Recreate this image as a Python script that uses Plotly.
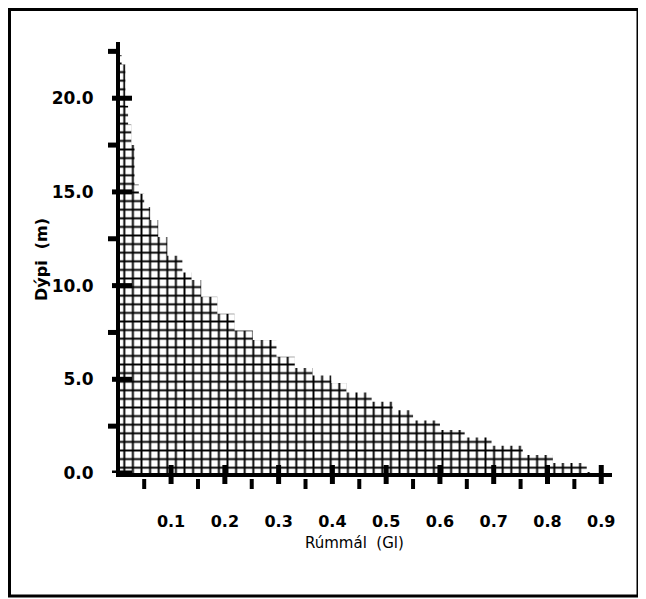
import plotly.graph_objects as go

# Volume (Gl) and depth (m)
volume = [0.000, 0.008, 0.015, 0.020, 0.026, 0.032, 0.040, 0.050, 0.061, 0.076,
          0.093, 0.121, 0.138, 0.156, 0.186, 0.218, 0.252, 0.296, 0.330, 0.363,
          0.398, 0.426, 0.473, 0.512, 0.550, 0.600, 0.646, 0.696, 0.754, 0.810,
          0.873, 0.880]
depth = [22.3, 21.8, 19.6, 18.6, 17.5, 15.4, 14.9, 14.2, 13.5, 12.6,
         11.6, 10.7, 10.3, 9.4, 8.5, 7.6, 7.1, 6.2, 5.6, 5.2,
         4.8, 4.3, 3.8, 3.35, 2.8, 2.3, 1.9, 1.45, 0.96, 0.53,
         0.05, 0.0]

x_major = [0.1, 0.2, 0.3, 0.4, 0.5, 0.6, 0.7, 0.8, 0.9]
x_minor = [0.05, 0.15, 0.25, 0.35, 0.45, 0.55, 0.65, 0.75, 0.85]
x_labels = ["0.1", "0.2", "0.3", "0.4", "0.5", "0.6", "0.7", "0.8", "0.9"]
y_major = [0, 5, 10, 15, 20]
y_minor = [2.5, 7.5, 12.5, 17.5, 22.5]
y_labels = ["0.0", "5.0", "10.0", "15.0", "20.0"]

FONT = "DejaVu Sans"

# plot-area geometry (pixels)
L, R, T, B = 112, 34, 34, 126
W, H = 638, 591
PW, PH = W - L - R, H - T - B

fig = go.Figure()
fig.add_trace(go.Scatter(
    x=volume, y=depth, mode="lines", line_shape="hv",
    line=dict(width=0, color="black"),
    fill="tozeroy", fillcolor="black",
    fillpattern=dict(shape="+", size=8.6, solidity=0.4,
                     fgcolor="black", bgcolor="white", fgopacity=1),
    hoverinfo="skip", showlegend=False,
))

shapes = []
for v in x_major:
    shapes.append(dict(type="line", xref="x", yref="paper", ysizemode="pixel", yanchor=0,
                       x0=v, x1=v, y0=-11, y1=8, line=dict(color="black", width=5)))
for v in x_minor:
    shapes.append(dict(type="line", xref="x", yref="paper", ysizemode="pixel", yanchor=0,
                       x0=v, x1=v, y0=-6, y1=-16, line=dict(color="black", width=4)))
for v in y_major:
    shapes.append(dict(type="line", xref="paper", yref="y", xsizemode="pixel", xanchor=0,
                       x0=-8, x1=12, y0=v, y1=v, line=dict(color="black", width=5)))
for v in y_minor:
    shapes.append(dict(type="line", xref="paper", yref="y", xsizemode="pixel", xanchor=0,
                       x0=-12, x1=-3, y0=v, y1=v, line=dict(color="black", width=5)))
# outer frame
shapes.append(dict(type="rect", xref="paper", yref="paper",
                   x0=(1.5 - L) / PW, x1=(630 - L) / PW,
                   y0=(H - B - 588) / PH, y1=(H - B - 1.5) / PH,
                   line=dict(color="black", width=3)))

fig.update_layout(
    width=W, height=H,
    margin=dict(l=L, r=R, t=T, b=B),
    paper_bgcolor="white", plot_bgcolor="white",
    shapes=shapes,
    xaxis=dict(range=[0.005, 0.92], tickvals=x_major, ticktext=x_labels,
               showgrid=False, zeroline=False, showline=True, linecolor="black",
               linewidth=4, ticks="", ticklabelstandoff=31,
               tickfont=dict(family=FONT, size=16, color="black", weight="bold")),
    yaxis=dict(range=[0, 23], tickvals=y_major, ticktext=y_labels,
               showgrid=False, zeroline=False, showline=True, linecolor="black",
               linewidth=4, ticks="", ticklabelstandoff=19,
               tickfont=dict(family=FONT, size=17, color="black", weight="bold")),
    annotations=[
        dict(text="Rúmmál\u00a0 (Gl)", xref="paper", yref="paper",
             x=(346 - L) / PW, y=(H - B - 535) / PH, xanchor="center", yanchor="middle",
             showarrow=False, font=dict(family=FONT, size=15, color="black")),
        dict(text="Dýpi\u00a0 (m)", xref="paper", yref="paper", textangle=-90,
             x=(33 - L) / PW, y=(H - B - 252) / PH, xanchor="center", yanchor="middle",
             showarrow=False,
             font=dict(family=FONT, size=16, color="black", weight="bold")),
    ],
)

fig.write_html("out.html")
